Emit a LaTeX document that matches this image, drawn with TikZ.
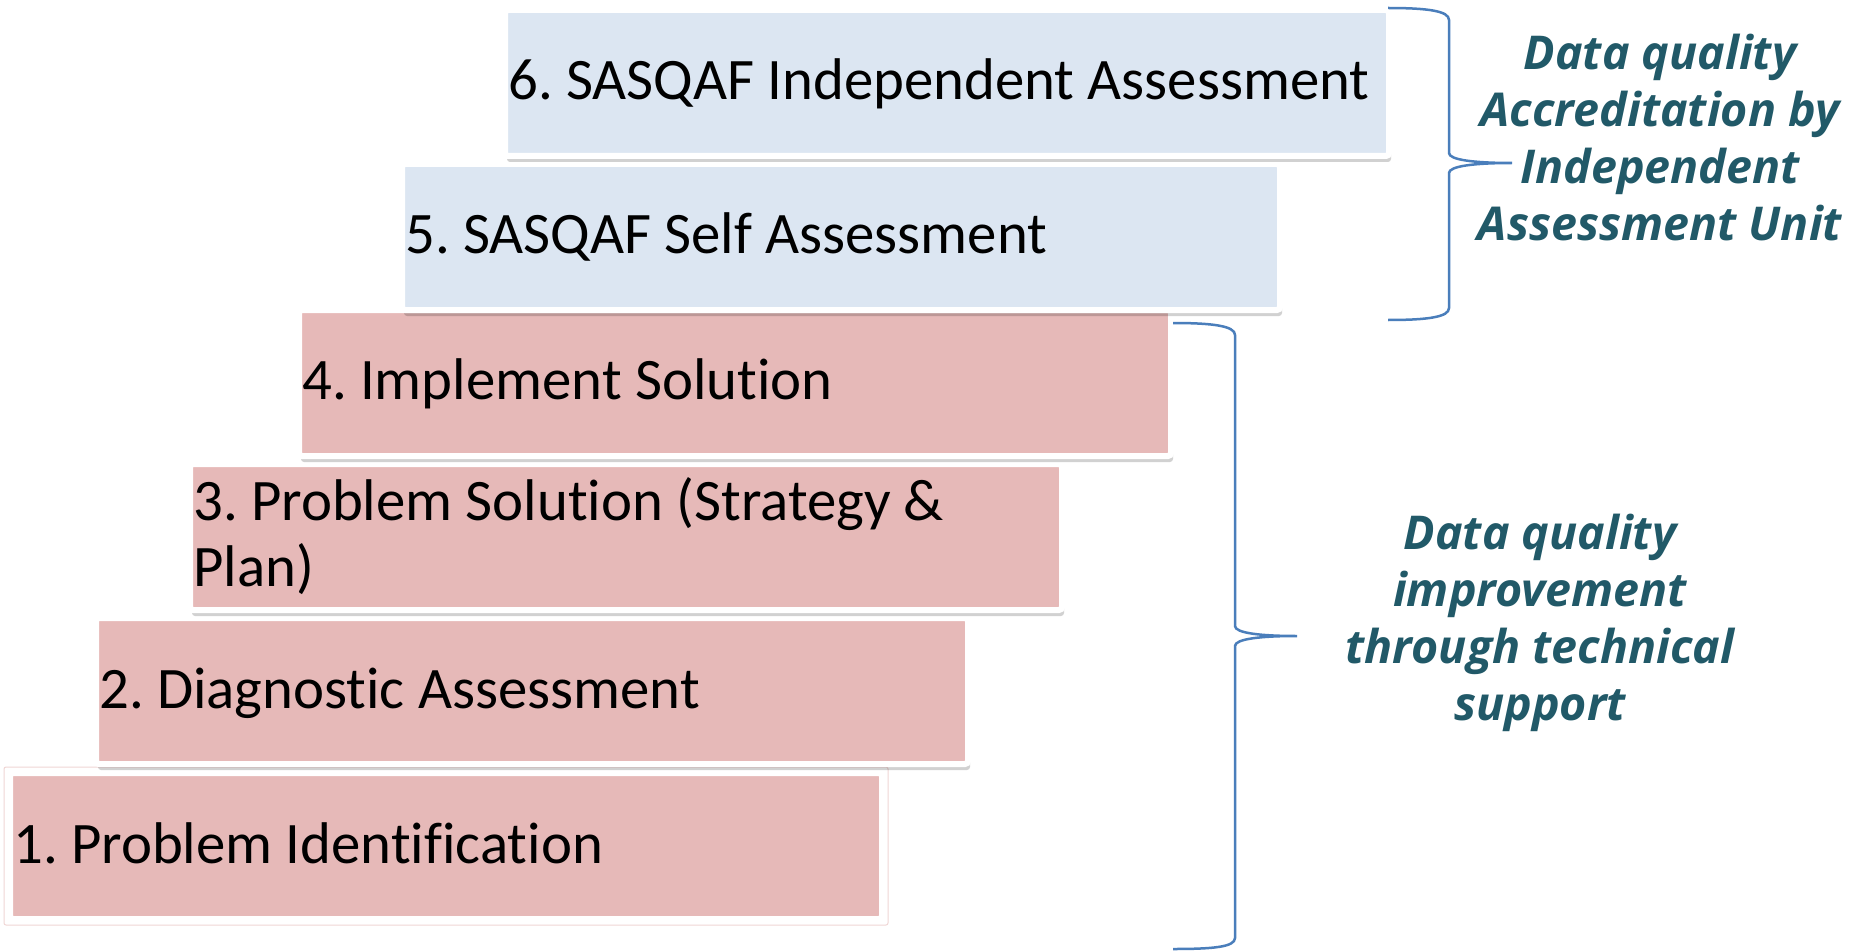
\documentclass[tikz,border=0pt]{standalone}
\usepackage{fontspec}
\newfontfamily\boxfont{Carlito}[Ligatures=NoCommon]
\newfontfamily\notefont{Open Sans}
\usetikzlibrary{shadows}
\frenchspacing
\definecolor{blueFill}{HTML}{DCE6F2}
\definecolor{pinkFill}{HTML}{E6B9B8}
\definecolor{pinkEdge}{HTML}{F0D6D5}
\definecolor{braceBlue}{HTML}{4A7EBB}
\definecolor{noteTeal}{HTML}{215968}
\tikzset{
  stepbox/.style={rectangle, inner sep=0pt, outer sep=0pt, draw=white, line width=6pt,
    rounded corners=3pt, minimum height=146pt},
  shadowed/.style={drop shadow={shadow xshift=2pt, shadow yshift=-6pt, fill=black, opacity=0.18}},
  steptext/.style={inner sep=0pt, anchor=base west, text=black,
    font=\boxfont\frenchspacing\fontsize{58.8}{66}\selectfont},
  notetext/.style={inner sep=0pt, anchor=base, text=noteTeal,
    font=\notefont\bfseries\itshape\fontsize{46.6}{57}\selectfont},
  bracestyle/.style={draw=braceBlue, line width=2.5pt},
}
\begin{document}
\begin{tikzpicture}[x=1pt, y=-1pt]
\useasboundingbox (0,0) rectangle (1855,952);
\fill[white] (0,0) rectangle (1855,952);

% step 1
\node[stepbox, fill=pinkFill, minimum width=872pt] (b1) at (446,846) {};
\draw[pinkEdge, line width=1pt, rounded corners=2pt]
  ([xshift=-6pt, yshift=6pt]b1.north west) rectangle ([xshift=6pt, yshift=-6pt]b1.south east);
\node[steptext] (t1) at ([xshift=3pt, yshift=-17pt]b1.west) {1. Problem Identification};

% step 2
\node[stepbox, shadowed, fill=pinkFill, minimum width=872pt] (b2) at (532,691) {};
\node[steptext] (t2) at ([xshift=3pt, yshift=-17pt]b2.west) {2. Diagnostic Assessment};

% step 3
\node[stepbox, shadowed, fill=pinkFill, minimum width=872pt] (b3) at (626,537) {};
\node[steptext] (t3) at ([xshift=3pt, yshift=17pt]b3.west)
  {\vtop{\baselineskip=66pt\lineskiplimit=-100pt\halign{#\hfil\cr
   3. Problem Solution (Strategy \&\cr Plan)\cr}}};

% step 4
\node[stepbox, shadowed, fill=pinkFill, minimum width=872pt] (b4) at (735,383) {};
\node[steptext] (t4) at ([xshift=3pt, yshift=-16pt]b4.west) {4. Implement Solution};

% step 5
\node[stepbox, shadowed, fill=blueFill, minimum width=878pt] (b5) at (841,237) {};
\node[steptext] (t5) at ([xshift=3pt, yshift=-16.5pt]b5.west) {5. SASQAF Self Assessment};

% step 6
\node[stepbox, shadowed, fill=blueFill, minimum width=884pt] (b6) at (947,83) {};
\node[steptext] (t6) at ([xshift=3pt, yshift=-17pt]b6.west) {6. SASQAF Independent Assessment};

% upper brace
\coordinate (u1) at (1388,8);
\coordinate (u2) at (1449,20);
\coordinate (u3) at (1449,153);
\coordinate (utip) at (1512,163);
\coordinate (u4) at (1449,173);
\coordinate (u5) at (1449,308);
\coordinate (u6) at (1388,320);
\draw[bracestyle] (u1) .. controls +(40,0) and +(0,-9) .. (u2) -- (u3)
  .. controls +(0,7) and +(-37,0) .. (utip)
  .. controls +(-37,0) and +(0,-7) .. (u4) -- (u5)
  .. controls +(0,9) and +(40,0) .. (u6);

% lower brace
\coordinate (l1) at (1173,323);
\coordinate (l2) at (1235,335);
\coordinate (l3) at (1235,626);
\coordinate (ltip) at (1297,636);
\coordinate (l4) at (1235,646);
\coordinate (l5) at (1235,938);
\coordinate (l6) at (1173,949);
\draw[bracestyle] (l1) .. controls +(40,0) and +(0,-9) .. (l2) -- (l3)
  .. controls +(0,7) and +(-37,0) .. (ltip)
  .. controls +(-37,0) and +(0,-7) .. (l4) -- (l5)
  .. controls +(0,9) and +(40,0) .. (l6);

% notes
\node[notetext] (n1) at (1660,70)
  {\vtop{\baselineskip=57pt\lineskiplimit=-100pt\halign{\hfil#\hfil\cr
   Data quality\cr Accreditation by\cr Independent\cr Assessment Unit\cr}}};
\node[notetext] (n2) at (1540,549)
  {\vtop{\baselineskip=57pt\lineskiplimit=-100pt\halign{\hfil#\hfil\cr
   Data quality\cr improvement\cr through technical\cr support\cr}}};
\end{tikzpicture}
\end{document}
